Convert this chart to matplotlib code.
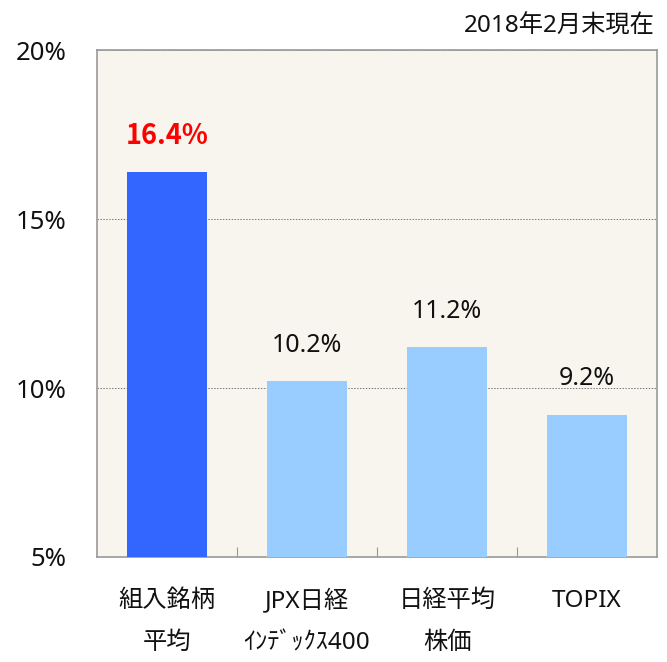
import numpy as np
import matplotlib
matplotlib.use("Agg")
import matplotlib.pyplot as plt

plt.rcParams['font.family'] = ['Noto Sans', 'Noto Sans CJK JP', 'DejaVu Sans']

# data
categories = ["組入銘柄\n平均", "JPX日経\nｲﾝﾃﾞｯｸｽ400", "日経平均\n株価", "TOPIX"]
values = [16.4, 10.2, 11.2, 9.2]
value_labels = ["16.4%", "10.2%", "11.2%", "9.2%"]
y_ticks = [5, 10, 15, 20]
y_tick_labels = ["5%", "10%", "15%", "20%"]
note = "2018年2月末現在"

bar_colors = ["#3366FF", "#99CCFF", "#99CCFF", "#99CCFF"]
label_colors = ["#FF0000", "#111111", "#111111", "#111111"]
label_bold = [True, False, False, False]


def main():
    fig = plt.figure(figsize=(6.67, 6.62), dpi=100)
    ax = fig.add_axes([97 / 667, 105 / 662, 560 / 667, 507 / 662])
    ax.set_facecolor("#F8F5EE")

    x = np.arange(len(categories))
    ax.bar(x, values, width=0.565, color=bar_colors, zorder=3, bottom=0)

    ax.set_xlim(-0.5, len(categories) - 0.5)
    ax.set_ylim(5, 20)

    for xi, v, lab, c, b in zip(x, values, value_labels, label_colors, label_bold):
        if b:
            # Noto Sans has no bold here, the CJK family does
            ax.annotate(lab, (xi, v), xytext=(0, 26), textcoords="offset points",
                        ha="center", va="center", fontsize=19.5, color=c,
                        fontweight="bold", family=["Noto Sans CJK JP"])
        else:
            ax.annotate(lab, (xi, v), xytext=(0, 26), textcoords="offset points",
                        ha="center", va="center", fontsize=18, color=c)

    ax.set_yticks(y_ticks)
    ax.set_yticklabels(y_tick_labels, fontsize=18.5, color="#111111")
    ax.tick_params(axis="y", length=0, pad=22)

    ax.set_xticks(x)
    ax.set_xticklabels(categories, fontsize=17.5, color="#111111", linespacing=2.0)
    ax.tick_params(axis="x", which="major", length=0, pad=23)
    ax.set_xticks(x[:-1] + 0.5, minor=True)
    ax.tick_params(axis="x", which="minor", direction="in", length=7, color="#999999", width=0.8)

    ax.yaxis.grid(True, linestyle=(0, (1.5, 1.5)), color="#777777", linewidth=0.7, zorder=1)

    for s in ax.spines.values():
        s.set_color("#999999")
        s.set_linewidth(1.2)

    fig.text(655 / 667, 1 - 27 / 662, note, ha="right", va="center", fontsize=17.5, color="#111111")

    fig.savefig("out.png", dpi=100)


if __name__ == "__main__":
    main()
